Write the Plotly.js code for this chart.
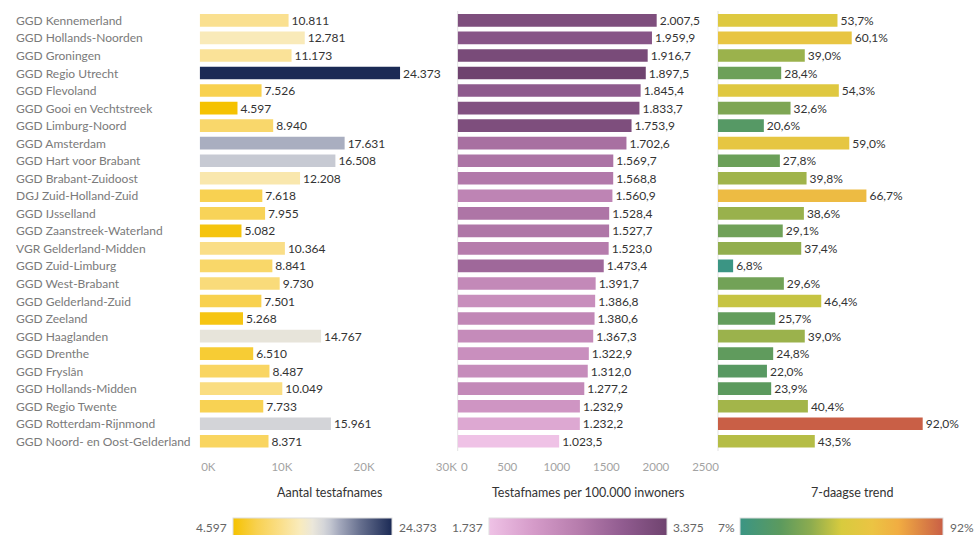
<!DOCTYPE html>
<html><head><meta charset="utf-8">
<script src="https://cdn.plot.ly/plotly-3.0.1.min.js"></script>
<style>html,body{margin:0;padding:0;background:#fff}#chart{width:975px;height:535px}</style>
</head><body><div id="chart"></div>
<script>
const categories = ["GGD Kennemerland","GGD Hollands-Noorden","GGD Groningen","GGD Regio Utrecht","GGD Flevoland","GGD Gooi en Vechtstreek","GGD Limburg-Noord","GGD Amsterdam","GGD Hart voor Brabant","GGD Brabant-Zuidoost","DGJ Zuid-Holland-Zuid","GGD IJsselland","GGD Zaanstreek-Waterland","VGR Gelderland-Midden","GGD Zuid-Limburg","GGD West-Brabant","GGD Gelderland-Zuid","GGD Zeeland","GGD Haaglanden","GGD Drenthe","GGD Fryslân","GGD Hollands-Midden","GGD Regio Twente","GGD Rotterdam-Rijnmond","GGD Noord- en Oost-Gelderland"];
const aantalTestafnames = [10811,12781,11173,24373,7526,4597,8940,17631,16508,12208,7618,7955,5082,10364,8841,9730,7501,5268,14767,6510,8487,10049,7733,15961,8371];
const per100k = [2007.5,1959.9,1916.7,1897.5,1845.4,1833.7,1753.9,1702.6,1569.7,1568.8,1560.9,1528.4,1527.7,1523.0,1473.4,1391.7,1386.8,1380.6,1367.3,1322.9,1312.0,1277.2,1232.9,1232.2,1023.5];
// colour measure of the middle panel (estimated from shading), legend range 1.737 - 3.375
const per100kColour = [3200,3080,3250,3375,3000,3150,3200,2720,2670,2605,2460,2655,2640,2570,2820,2390,2330,2425,2360,2310,2345,2390,2230,2015,1737];
const per100kLegend = [1737,3375];
const trend7d = [53.7,60.1,39.0,28.4,54.3,32.6,20.6,59.0,27.8,39.8,66.7,38.6,29.1,37.4,6.8,29.6,46.4,25.7,39.0,24.8,22.0,23.9,40.4,92.0,43.5];
const axis1TickVals = [0,10000,20000,30000];
const axis1TickText = ["\u2002\u2002\u20020K","10K","20K","30K"];
const axis2TickVals = [0,500,1000,1500,2000,2500];
const axis2TickText = ["0","500","1000","1500","2000","2500"];
const titles = ["Aantal testafnames","Testafnames per 100.000 inwoners","7-daagse trend"];

const W = 975, H = 535;
const px = v => v / W, py = v => 1 - v / H;
const FONT = "Lato, 'Open Sans', sans-serif";

const csLeft = [[0,'#f5c200'],[0.15,'#f8d150'],[0.3,'#fadf8a'],[0.42,'#f9ebbc'],[0.5,'#ebe7da'],[0.57,'#d5d6d9'],[0.61,'#c4c7d1'],[0.67,'#a3a8bc'],[0.8,'#67708f'],[1,'#1b2a55']];
const csMid = [[0,'#efc2e6'],[0.25,'#d59bc9'],[0.5,'#b77dad'],[0.75,'#915c90'],[1,'#6f436f']];
const csRight = [[0,'#3b9584'],[0.2,'#5c9a5e'],[0.35,'#8dac4f'],[0.5,'#d8cb3e'],[0.65,'#ebc443'],[0.78,'#f1ad42'],[1,'#c95f46']];

const aMin = Math.min(...aantalTestafnames), aMax = Math.max(...aantalTestafnames);
const tMin = Math.min(...trend7d), tMax = Math.max(...trend7d);

function cbar(cx, len) {
  return {orientation:'h', x:px(cx), xanchor:'center', y:py(517.5), yanchor:'top', yref:'paper',
    len:len, lenmode:'pixels', thickness:24, thicknessmode:'pixels', showticklabels:false, ticks:'',
    outlinewidth:1, outlinecolor:'#dddddd', xpad:0, ypad:0, title:{text:''}};
}
const common = {type:'bar', orientation:'h', y:categories, textposition:'outside', cliponaxis:false,
  constraintext:'none', textfont:{family:FONT, size:12, color:'#333'}, hoverinfo:'x+y'};

const traces = [
  Object.assign({}, common, {x:aantalTestafnames, xaxis:'x', yaxis:'y', texttemplate:'%{x:,.0f}',
    marker:{color:aantalTestafnames, colorscale:csLeft, cmin:aMin, cmax:aMax, showscale:true, colorbar:cbar(312.8,159)}}),
  Object.assign({}, common, {x:per100k, xaxis:'x2', yaxis:'y', texttemplate:'%{x:,.1f}',
    marker:{color:per100kColour, colorscale:csMid, cmin:per100kLegend[0], cmax:per100kLegend[1], showscale:true, colorbar:cbar(577.5,177.5)}}),
  Object.assign({}, common, {x:trend7d, xaxis:'x3', yaxis:'y', texttemplate:'%{x:.1f}%',
    marker:{color:trend7d, colorscale:csRight, cmin:tMin, cmax:tMax, showscale:true, colorbar:cbar(841.7,203)}})
];

const tickFont = {family:FONT, size:11.5, color:'#a3a3a3'};
const annotations = categories.map(c => ({xref:'paper', yref:'y', x:px(14), y:c, xanchor:'left', yanchor:'middle',
  text:c, showarrow:false, font:{family:FONT, size:12, color:'#7a7a7a'}}));
// first tick label of the middle axis, left-aligned at the start of its pane (as in the reference)
annotations.push({xref:'x2', yref:'paper', x:axis2TickVals[0], y:py(466), xanchor:'left', yanchor:'middle', xshift:1,
  text:axis2TickText[0], showarrow:false, font:tickFont});
[[329,titles[0]],[588,titles[1]],[852,titles[2]]].forEach(([cx,t]) => annotations.push({xref:'paper', yref:'paper',
  x:px(cx), y:py(492), xanchor:'center', yanchor:'middle', text:t, showarrow:false, font:{family:FONT, size:12.5, color:'#333'}}));
const fmt = (v, d) => v.toFixed(d).replace(/\B(?=(\d{3})+(?!\d))/g, '.');
[[229,'right',fmt(aMin,0)],[397,'left',fmt(aMax,0)],[484.5,'right',fmt(per100kLegend[0],0)],[671,'left',fmt(per100kLegend[1],0)],
 [737,'right',Math.round(tMin)+'%'],[948,'left',Math.round(tMax)+'%']].forEach(([x,a,t]) => annotations.push({xref:'paper', yref:'paper',
  x:px(x), y:py(527), xanchor:a, yanchor:'middle', text:t, showarrow:false, font:{family:FONT, size:12, color:'#666'}}));

const shapes = [
  {type:'line', xref:'paper', yref:'paper', x0:px(312.8), x1:px(312.8), y0:py(531), y1:py(540), line:{color:'#222', width:1.5}},
  {type:'line', xref:'paper', yref:'paper', x0:px(841.7), x1:px(841.7), y0:py(531), y1:py(540), line:{color:'#222', width:1.5}},
  {type:'line', xref:'paper', yref:'paper', x0:px(457.7), x1:px(457.7), y0:py(11), y1:py(451), line:{color:'#e3e3e3', width:1}, layer:'below'},
  {type:'line', xref:'paper', yref:'paper', x0:px(718), x1:px(718), y0:py(11), y1:py(451), line:{color:'#e3e3e3', width:1}, layer:'below'}
];

const layout = {
  width:W, height:H, margin:{l:0, r:0, t:0, b:0, autoexpand:false}, paper_bgcolor:'#fff', plot_bgcolor:'rgba(0,0,0,0)',
  separators:',.', showlegend:false, bargap:0.28, font:{family:FONT},
  xaxis:{domain:[px(199.7), px(446.3)], range:[0,30000], tickvals:axis1TickVals, ticktext:axis1TickText, showgrid:false, zeroline:false,
    ticks:'', tickfont:tickFont, anchor:'y', fixedrange:true, ticklabelstandoff:8},
  xaxis2:{domain:[px(457.7), px(705.5)], range:[0,2500], tickvals:axis2TickVals.slice(1), ticktext:axis2TickText.slice(1), showgrid:false, zeroline:false,
    ticks:'', tickfont:tickFont, anchor:'y', fixedrange:true, ticklabelstandoff:8},
  xaxis3:{domain:[px(718), px(940.5)], range:[0,100], showgrid:false, zeroline:false, showticklabels:false, ticks:'', anchor:'y', fixedrange:true},
  yaxis:{domain:[py(450.8), py(10.9)], type:'category', categoryorder:'array', categoryarray:categories, autorange:'reversed',
    showticklabels:false, ticks:'', showgrid:false, zeroline:false, fixedrange:true},
  annotations, shapes
};
Plotly.newPlot('chart', traces, layout, {displayModeBar:false, staticPlot:true});
</script></body></html>
